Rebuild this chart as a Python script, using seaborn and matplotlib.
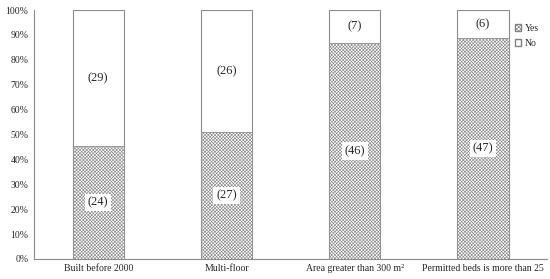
import pandas as pd
import seaborn as sns
import matplotlib.pyplot as plt
from matplotlib.patches import Patch

# Data
categories = ['Built before 2000', 'Multi-floor', 'Area greater than 300 m²', 'Permitted beds is more than 25']
yes_counts = [24, 27, 46, 47]
no_counts = [29, 26, 7, 6]

df = pd.DataFrame({'Category': categories, 'Yes': yes_counts, 'No': no_counts})
df['Total'] = df['Yes'] + df['No']
df['YesPct'] = df['Yes'] / df['Total'] * 100
df['AllPct'] = 100.0

sns.set_style('white')
plt.rcParams['font.family'] = ['Liberation Serif', 'DejaVu Serif']
plt.rcParams['hatch.color'] = '#8a8a8a'
plt.rcParams['hatch.linewidth'] = 0.45

fig = plt.figure(figsize=(5.5, 2.79), dpi=100)
ax = fig.add_axes([0.062, 0.072, 0.933, 0.892])

# full bar (No) then Yes on top
sns.barplot(data=df, x='Category', y='AllPct', color='white', edgecolor='#8c8c8c',
            linewidth=0.8, width=0.4, ax=ax)
n = len(ax.patches)
sns.barplot(data=df, x='Category', y='YesPct', color='white', edgecolor='#8c8c8c',
            linewidth=0.6, width=0.4, ax=ax)
for p in ax.patches[n:]:
    p.set_hatch('xxxxxxxxxx')

# count labels
for i, row in df.iterrows():
    ax.text(i, row['YesPct'] / 2, f"({row['Yes']})", ha='center', va='center', fontsize=9,
            bbox=dict(facecolor='white', edgecolor='none', pad=2))
    ax.text(i, row['YesPct'] + (100 - row['YesPct']) / 2, f"({row['No']})", ha='center',
            va='center', fontsize=9, bbox=dict(facecolor='white', edgecolor='none', pad=2))

ax.set_ylim(0, 100)
ax.set_xlim(-0.5, 3.5)
ax.set_yticks(range(0, 101, 10))
ax.set_yticklabels([f'{v}%' for v in range(0, 101, 10)], fontsize=7)
ax.tick_params(axis='x', labelsize=7, length=0, pad=4)
ax.tick_params(axis='y', length=0, pad=4)
ax.set_xlabel('')
ax.set_ylabel('')
for s in ['top', 'right']:
    ax.spines[s].set_visible(False)
for s in ['left', 'bottom']:
    ax.spines[s].set_color('#8c8c8c')
    ax.spines[s].set_linewidth(0.8)

handles = [Patch(facecolor='white', edgecolor='#808080', hatch='xxxxxxxx', label='Yes'),
           Patch(facecolor='white', edgecolor='#808080', label='No')]
ax.legend(handles=handles, loc='upper right', bbox_to_anchor=(1.0, 0.98), frameon=False,
          fontsize=7, handlelength=0.7, handleheight=0.7, handletextpad=0.3, labelspacing=0.6)

fig.savefig('out.png', dpi=100)
